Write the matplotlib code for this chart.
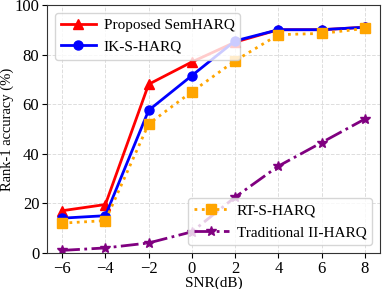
import matplotlib
matplotlib.use("Agg")
import matplotlib.pyplot as plt

plt.rcParams['font.family'] = ['Liberation Serif', 'DejaVu Serif']

snr = [-6, -4, -2, 0, 2, 4, 6, 8]
proposed = [17, 19.5, 68, 77, 85, 90, 90, 91]
ik_s_harq = [14, 15, 57.5, 71.5, 85.5, 90, 90, 91]
rt_s_harq = [12, 13, 52, 65, 77.5, 88, 88.5, 90.5]
traditional = [1, 2, 4, 8.5, 22.5, 35, 44.5, 54]

fig, ax = plt.subplots(figsize=(3.82, 2.89), dpi=100)

l1, = ax.plot(snr, proposed, color='red', marker='^', markersize=6.5, linewidth=2, label='Proposed SemHARQ')
l2, = ax.plot(snr, ik_s_harq, color='blue', marker='o', markersize=6.5, linewidth=2, label='IK-S-HARQ')
l3, = ax.plot(snr, rt_s_harq, color='orange', marker='s', markersize=6.5, linewidth=2, linestyle=':', label='RT-S-HARQ')
l4, = ax.plot(snr, traditional, color='purple', marker='*', markersize=7.5, linewidth=2, linestyle='-.', label='Traditional II-HARQ')

ax.set_ylim(0, 100)
ax.set_xticks(snr)
ax.set_xticklabels(['\u22126', '\u22124', '\u22122', '0', '2', '4', '6', '8'])
ax.tick_params(labelsize=12, pad=2)
ax.set_xlabel('SNR(dB)', fontsize=11, labelpad=0)
ax.set_ylabel('Rank-1 accuracy (%)', fontsize=10.5, labelpad=0)
ax.grid(True, linestyle='--', color='#dddddd', linewidth=0.7)
for s in ax.spines.values():
    s.set_color('#333333')

leg1 = ax.legend(handles=[l1, l2], loc='upper left', fontsize=11,
                 handlelength=2.3, handletextpad=0.5)
ax.add_artist(leg1)
ax.legend(handles=[l3, l4], loc='lower right', fontsize=11,
          handlelength=2.3, handletextpad=0.5)

fig.subplots_adjust(left=0.123, right=0.995, top=0.983, bottom=0.125)
fig.savefig('out.png', dpi=100)
